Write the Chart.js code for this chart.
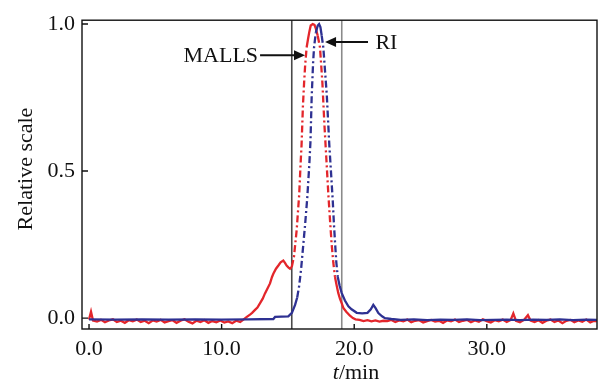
<!DOCTYPE html>
<html>
<head>
<meta charset="utf-8">
<script src="https://cdn.jsdelivr.net/npm/chart.js@4/dist/chart.umd.min.js"></script>
<style>
  html, body { margin: 0; padding: 0; background: #fff; }
  #wrap { width: 606px; height: 381px; }
</style>
</head>
<body>
<div id="wrap"><canvas id="chart" width="606" height="381"></canvas></div>
<script>
// MALLS (red) - elution time in min, relative scale
var redT = [0.0, 0.15, 0.3, 0.6, 0.9, 1.2, 1.5, 1.8, 2.1, 2.4, 2.7, 3.0, 3.3, 3.6, 3.9, 4.2, 4.5, 4.8, 5.1, 5.4,
  5.7, 6.0, 6.3, 6.6, 6.9, 7.2, 7.5, 7.8, 8.1, 8.4, 8.7, 9.0, 9.3, 9.6, 9.9, 10.2, 10.5, 10.8, 11.1, 11.4,
  11.64, 11.9, 12.14, 12.3, 12.52, 12.7, 12.9, 13.1, 13.27, 13.45, 13.65, 13.8, 13.9, 14.1, 14.28, 14.45, 14.65, 14.78, 14.9, 15.05,
  15.16, 15.29, 15.46, 15.66, 15.85, 15.95, 16.03, 16.13, 16.22, 16.3, 16.41, 16.52, 16.62, 16.72, 16.87, 17.0, 17.1, 17.25, 17.42, 17.6,
  17.75, 17.9, 18.05, 18.18, 18.3, 18.42, 18.55, 18.68, 18.8, 18.93, 19.06, 19.18, 19.4, 19.68, 19.9, 20.1, 20.4, 20.7, 21.0, 21.3,
  21.6, 21.9, 22.2, 22.5, 22.8, 23.1, 23.4, 23.7, 24.0, 24.3, 24.6, 24.9, 25.2, 25.5, 25.8, 26.1, 26.4, 26.7, 27.0, 27.3,
  27.6, 27.9, 28.2, 28.5, 28.8, 29.1, 29.4, 29.7, 30.0, 30.3, 30.6, 30.9, 31.2, 31.5, 31.8, 32.0, 32.2, 32.5, 32.8, 33.1,
  33.3, 33.6, 33.9, 34.2, 34.5, 34.8, 35.1, 35.4, 35.7, 36.0, 36.3, 36.6, 36.9, 37.2, 37.5, 37.8, 38.1, 38.3];
var redY = [-0.005, 0.022, -0.008, -0.012, -0.006, -0.014, -0.008, -0.004, -0.013, -0.009, -0.016, -0.007, -0.011, -0.005, -0.013, -0.009, -0.017, -0.008, -0.012, -0.006,
  -0.015, -0.010, -0.007, -0.016, -0.009, -0.004, -0.012, -0.018, -0.009, -0.013, -0.007, -0.016, -0.010, -0.014, -0.008, -0.015, -0.011, -0.017, -0.009, -0.013,
  -0.005, 0.004, 0.012, 0.018, 0.028, 0.036, 0.051, 0.066, 0.084, 0.100, 0.118, 0.140, 0.151, 0.168, 0.179, 0.190, 0.196, 0.188, 0.179, 0.172,
  0.168, 0.174, 0.210, 0.300, 0.420, 0.520, 0.590, 0.720, 0.800, 0.860, 0.920, 0.950, 0.975, 0.995, 1.000, 0.997, 0.985, 0.960, 0.920, 0.800,
  0.660, 0.540, 0.420, 0.330, 0.250, 0.190, 0.140, 0.110, 0.085, 0.065, 0.050, 0.035, 0.022, 0.008, 0.000, -0.004, -0.006, -0.010, -0.007, -0.011,
  -0.008, -0.012, -0.009, -0.010, -0.006, -0.013, -0.008, -0.011, -0.005, -0.014, -0.009, -0.007, -0.015, -0.010, -0.006, -0.012, -0.009, -0.016, -0.008, -0.011,
  -0.005, -0.013, -0.009, -0.006, -0.014, -0.008, -0.012, -0.004, -0.010, -0.015, -0.007, -0.011, -0.005, -0.013, -0.006, 0.016, -0.009, -0.014, -0.006, 0.010,
  -0.008, -0.013, -0.007, -0.016, -0.009, -0.005, -0.013, -0.008, -0.017, -0.009, -0.006, -0.014, -0.008, -0.012, -0.005, -0.015, -0.009, -0.011];

// RI (blue)
var blueT = [0.0, 2.0, 4.0, 6.0, 8.0, 10.0, 12.0, 13.9, 14.03, 15.03, 15.3, 15.54, 15.7, 15.85, 16.0, 16.16, 16.3, 16.46, 16.61, 16.7,
  16.79, 16.9, 16.97, 17.1, 17.25, 17.35, 17.45, 17.55, 17.67, 17.8, 17.93, 18.12, 18.23, 18.38, 18.47, 18.55, 18.65, 18.76, 18.9, 19.06,
  19.3, 19.56, 19.8, 20.19, 20.6, 21.0, 21.25, 21.44, 21.6, 21.82, 22.1, 22.32, 22.8, 23.5, 24.5, 25.5, 26.5, 27.5, 28.5, 29.5,
  30.5, 31.5, 32.5, 33.5, 34.5, 35.5, 36.5, 37.5, 38.3];
var blueY = [-0.004, -0.005, -0.004, -0.005, -0.004, -0.005, -0.004, -0.003, 0.004, 0.006, 0.018, 0.045, 0.070, 0.110, 0.170, 0.250, 0.320, 0.410, 0.520, 0.600,
  0.750, 0.870, 0.920, 0.970, 0.995, 1.000, 0.990, 0.960, 0.920, 0.840, 0.760, 0.590, 0.510, 0.400, 0.320, 0.260, 0.190, 0.140, 0.110, 0.085,
  0.060, 0.040, 0.030, 0.018, 0.016, 0.018, 0.030, 0.045, 0.035, 0.017, 0.006, 0.000, -0.003, -0.006, -0.004, -0.007, -0.005, -0.006, -0.004, -0.007,
  -0.006, -0.005, -0.007, -0.005, -0.006, -0.004, -0.007, -0.005, -0.006];

var xTicks = [0, 10, 20, 30];
var yTicks = [0, 0.5, 1.0];
var markerLines = [15.29, 19.06];   // vertical guide lines (min)

var FONT = '"Liberation Serif", "Times New Roman", serif';
var FS = 22;

function pts(ts, ys) {
  return ts.map(function (t, i) { return { x: t, y: ys[i] }; });
}

// dash-dot only where the trace is steep
function steepDash(ctx) {
  var dx = Math.abs(ctx.p1.x - ctx.p0.x), dy = Math.abs(ctx.p1.y - ctx.p0.y);
  return (dy > 3 * dx && dy > 10) ? [7, 3, 2, 3] : undefined;
}

function arrow(c, x0, y, x1) {
  var dir = x1 > x0 ? 1 : -1;
  c.beginPath();
  c.moveTo(x0, y);
  c.lineTo(x1 - dir * 9, y);
  c.stroke();
  c.beginPath();
  c.moveTo(x1, y);
  c.lineTo(x1 - dir * 11, y - 5);
  c.lineTo(x1 - dir * 11, y + 5);
  c.closePath();
  c.fill();
}

var frame = {
  id: 'frame',
  beforeDatasetsDraw: function (chart) {
    var c = chart.ctx, a = chart.chartArea, xs = chart.scales.x;
    c.save();
    markerLines.forEach(function (m, i) {
      var px = xs.getPixelForValue(m);
      c.strokeStyle = i === 0 ? '#4a4a4a' : '#8a8a8a';
      c.lineWidth = 1.6;
      c.beginPath();
      c.moveTo(px, a.top);
      c.lineTo(px, a.bottom);
      c.stroke();
    });
    c.restore();
  },
  afterDraw: function (chart) {
    var c = chart.ctx, a = chart.chartArea, xs = chart.scales.x, ys = chart.scales.y;
    c.save();
    // box
    c.strokeStyle = '#111';
    c.lineWidth = 1.4;
    c.strokeRect(a.left, a.top, a.right - a.left, a.bottom - a.top);
    // inward ticks
    c.beginPath();
    xTicks.forEach(function (v) {
      var px = xs.getPixelForValue(v);
      c.moveTo(px, a.bottom);
      c.lineTo(px, a.bottom - 5);
    });
    yTicks.forEach(function (v) {
      var py = ys.getPixelForValue(v);
      c.moveTo(a.left, py);
      c.lineTo(a.left + 6, py);
    });
    c.stroke();

    // annotations
    c.fillStyle = '#111';
    c.strokeStyle = '#111';
    c.lineWidth = 2;
    c.font = FS + 'px ' + FONT;
    c.textBaseline = 'middle';
    var yM = ys.getPixelForValue(0.894);
    arrow(c, xs.getPixelForValue(12.9), yM, xs.getPixelForValue(16.29));
    c.textAlign = 'right';
    c.fillText('MALLS', xs.getPixelForValue(12.75), yM + 1);
    var yR = ys.getPixelForValue(0.939);
    arrow(c, xs.getPixelForValue(21.04), yR, xs.getPixelForValue(17.8));
    c.textAlign = 'left';
    c.fillText('RI', xs.getPixelForValue(21.6), yR + 1);

    // axis titles
    c.textAlign = 'left';
    c.textBaseline = 'alphabetic';
    c.font = 'italic ' + FS + 'px ' + FONT;
    var tW = c.measureText('t').width;
    c.font = FS + 'px ' + FONT;
    var rW = c.measureText('/min').width;
    var x0 = 356 - (tW + rW) / 2;
    c.font = 'italic ' + FS + 'px ' + FONT;
    c.fillText('t', x0, 379);
    c.font = FS + 'px ' + FONT;
    c.fillText('/min', x0 + tW, 379);

    c.translate(32, 169);
    c.rotate(-Math.PI / 2);
    c.textAlign = 'center';
    c.fillText('Relative scale', 0, 0);
    c.restore();
  }
};

new Chart(document.getElementById('chart'), {
  type: 'line',
  data: {
    datasets: [
      {
        label: 'RI',
        data: pts(blueT, blueY),
        borderColor: '#2e3192',
        borderWidth: 2.3,
        pointRadius: 0,
        tension: 0,
        segment: { borderDash: steepDash }
      },
      {
        label: 'MALLS',
        data: pts(redT, redY),
        borderColor: '#e3262b',
        borderWidth: 2.3,
        pointRadius: 0,
        tension: 0,
        segment: { borderDash: steepDash }
      }
    ]
  },
  options: {
    responsive: false,
    animation: false,
    layout: { padding: { top: 16, right: 9, left: 0, bottom: 0 } },
    plugins: { legend: { display: false }, tooltip: { enabled: false } },
    scales: {
      x: {
        type: 'linear',
        min: -0.53,
        max: 38.31,
        grid: { display: false, drawTicks: false },
        border: { display: false },
        afterBuildTicks: function (s) { s.ticks = xTicks.map(function (v) { return { value: v }; }); },
        afterFit: function (s) { s.height = 52; },
        ticks: {
          padding: 7,
          color: '#111',
          font: { family: FONT, size: FS },
          callback: function (v) { return Number(v).toFixed(1); }
        }
      },
      y: {
        min: -0.037,
        max: 1.013,
        grid: { display: false, drawTicks: false },
        border: { display: false },
        afterBuildTicks: function (s) { s.ticks = yTicks.map(function (v) { return { value: v }; }); },
        afterFit: function (s) { s.width = 82; },
        ticks: {
          padding: 7,
          color: '#111',
          font: { family: FONT, size: FS },
          callback: function (v) { return Number(v).toFixed(1); }
        }
      }
    }
  },
  plugins: [frame]
});
</script>
</body>
</html>
